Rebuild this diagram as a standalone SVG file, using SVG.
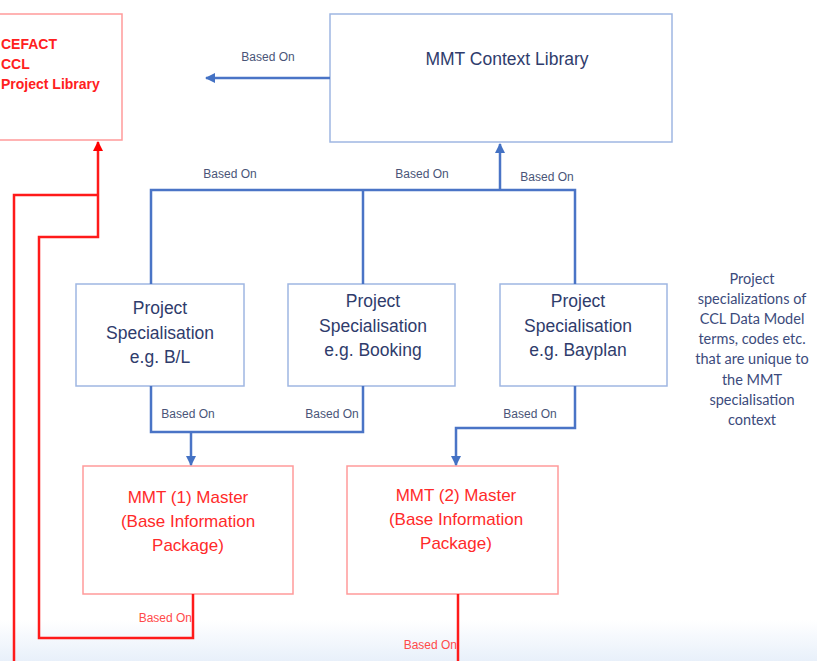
<svg xmlns="http://www.w3.org/2000/svg" width="817" height="661" viewBox="0 0 817 661">
<defs>
<linearGradient id="bg" x1="0" y1="0" x2="0" y2="1">
<stop offset="0" stop-color="#ffffff"/>
<stop offset="1" stop-color="#e8f0fa"/>
</linearGradient>
<marker id="ab" viewBox="0 0 10 10" refX="9" refY="5" markerWidth="4" markerHeight="4" orient="auto-start-reverse" markerUnits="strokeWidth">
<path d="M0,0 L10,5 L0,10 z" fill="#4472c4"/>
</marker>
<marker id="ar" viewBox="0 0 10 10" refX="9" refY="5" markerWidth="4" markerHeight="4" orient="auto-start-reverse" markerUnits="strokeWidth">
<path d="M0,0 L10,5 L0,10 z" fill="#ff0000"/>
</marker>
<style>
.bbox{fill:#ffffff;stroke:#9fb6e2;stroke-width:1.5}
.rbox{fill:#ffffff;stroke:#ff9a9a;stroke-width:1.5}
.bl{fill:none;stroke:#4a74c6;stroke-width:2.5}
.rl{fill:none;stroke:#ff1a1a;stroke-width:2.5}
.nav{font-family:"Liberation Sans",Arial,sans-serif;font-size:17.5px;fill:#2f3c6c;text-anchor:middle}
.red{font-family:"Liberation Sans",Arial,sans-serif;font-size:17px;fill:#ff2a2a;text-anchor:middle}
.lab{font-family:"Liberation Sans",Arial,sans-serif;font-size:12px;fill:#4a5578;text-anchor:middle}
.labr{font-family:"Liberation Sans",Arial,sans-serif;font-size:12px;fill:#ff4a4a;text-anchor:end}
.note{font-family:Lato,"Liberation Sans",sans-serif;font-size:14.5px;fill:#3c4b7c;text-anchor:middle}
.cef{font-family:"Liberation Sans",Arial,sans-serif;font-size:14px;font-weight:bold;fill:#ff2020}
</style>
</defs>
<rect x="0" y="0" width="817" height="661" fill="#ffffff"/>
<rect x="0" y="620" width="817" height="41" fill="url(#bg)"/>

<g id="cefact">
<rect class="rbox" x="-10" y="14" width="132" height="126"/>
<text class="cef" x="1" y="49">CEFACT</text>
<text class="cef" x="1" y="69">CCL</text>
<text class="cef" x="1" y="89">Project Library</text>
</g>

<g id="context-library">
<rect class="bbox" x="330" y="14" width="342" height="128"/>
<text class="nav" x="507" y="65">MMT Context Library</text>
</g>

<g id="spec-bl">
<rect class="bbox" x="76" y="284" width="168" height="102"/>
<text class="nav" x="160" y="314">Project</text>
<text class="nav" x="160" y="339">Specialisation</text>
<text class="nav" x="160" y="363">e.g. B/L</text>
</g>

<g id="spec-booking">
<rect class="bbox" x="288" y="284" width="167" height="102"/>
<text class="nav" x="373" y="307">Project</text>
<text class="nav" x="373" y="332">Specialisation</text>
<text class="nav" x="373" y="356">e.g. Booking</text>
</g>

<g id="spec-bayplan">
<rect class="bbox" x="500" y="284" width="167" height="102"/>
<text class="nav" x="578" y="307">Project</text>
<text class="nav" x="578" y="332">Specialisation</text>
<text class="nav" x="578" y="356">e.g. Bayplan</text>
</g>

<g id="master1">
<rect class="rbox" x="83" y="466" width="210" height="128"/>
<text class="red" x="188" y="503">MMT (1) Master</text>
<text class="red" x="188" y="527">(Base Information</text>
<text class="red" x="188" y="551">Package)</text>
</g>

<g id="master2">
<rect class="rbox" x="347" y="466" width="211" height="128"/>
<text class="red" x="456" y="501">MMT (2) Master</text>
<text class="red" x="456" y="525">(Base Information</text>
<text class="red" x="456" y="549">Package)</text>
</g>

<g id="note">
<text class="note" x="752" y="284">Project</text>
<text class="note" x="752" y="304">specializations of</text>
<text class="note" x="752" y="324">CCL Data Model</text>
<text class="note" x="752" y="344">terms, codes etc.</text>
<text class="note" x="752" y="364">that are unique to</text>
<text class="note" x="752" y="385">the MMT</text>
<text class="note" x="752" y="405">specialisation</text>
<text class="note" x="752" y="425">context</text>
</g>

<g id="connectors">
<path class="bl" d="M330,78 H206" marker-end="url(#ab)"/>
<path class="bl" d="M151,284 V190 H575 V284"/>
<path class="bl" d="M363,284 V190"/>
<path class="bl" d="M500,190 V144" marker-end="url(#ab)"/>
<path class="bl" d="M151,386 V432 H363 V386"/>
<path class="bl" d="M191,432 V465" marker-end="url(#ab)"/>
<path class="bl" d="M575,386 V428 H456 V465" marker-end="url(#ab)"/>
<path class="rl" d="M14,661 V195 H98"/>
<path class="rl" d="M193,594 V638 H39 V237 H98 V142" marker-end="url(#ar)"/>
<path class="rl" d="M458,594 V661"/>
<text class="lab" x="268" y="61">Based On</text>
<text class="lab" x="230" y="178">Based On</text>
<text class="lab" x="422" y="178">Based On</text>
<text class="lab" x="547" y="181">Based On</text>
<text class="lab" x="188" y="418">Based On</text>
<text class="lab" x="332" y="418">Based On</text>
<text class="lab" x="530" y="418">Based On</text>
<text class="labr" x="192" y="622">Based On</text>
<text class="labr" x="457" y="649">Based On</text>
</g>
</svg>
